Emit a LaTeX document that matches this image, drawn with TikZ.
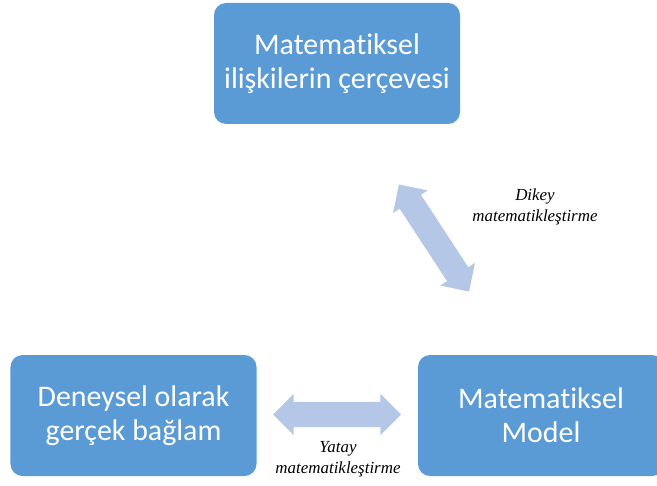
\documentclass[tikz,border=0pt]{standalone}
\usepackage{fontspec}
\setmainfont{Carlito}[Ligatures=NoCommon]
\newfontfamily\labelfont{Liberation Serif}
\usetikzlibrary{shapes.arrows}

\definecolor{boxblue}{HTML}{5B9BD5}
\definecolor{arrowblue}{HTML}{B4C7E7}

\begin{document}
\begin{tikzpicture}[x=1bp,y=-1bp,
	box/.style={fill=boxblue, rounded corners=12bp, minimum width=246bp,
		minimum height=121bp, text=white, align=center,
		font=\fontsize{30}{34}\selectfont},
	dblarrow/.style={double arrow, fill=arrowblue, inner xsep=0pt, inner ysep=12.5bp,
		minimum height=128bp, double arrow head extend=8bp},
	caption/.style={align=center, font=\labelfont\itshape\fontsize{17}{21}\selectfont}]
		{
			\useasboundingbox (0,0) rectangle (657,486);

			% the three boxes
			\node[box] (frame) at (337,63.5) {Matematiksel\\ilişkilerin çerçevesi};
			\node[box] (context) at (133.5,415.5) {Deneysel olarak\\gerçek bağlam};
			\node[box] (model) at (541,415.5) {Matematiksel\\Model};

			% two-way arrows
			\node[dblarrow, rotate=-56.8] (vert) at (434,238) {};
			\node[dblarrow] (horiz) at (337,414.5) {};

			\node[caption] (vertlabel) at (535,207) {Dikey\\matematikleştirme};
			\node[caption] (horizlabel) at (338,459.5) {Yatay\\matematikleştirme};
		}
\end{tikzpicture}
\end{document}
